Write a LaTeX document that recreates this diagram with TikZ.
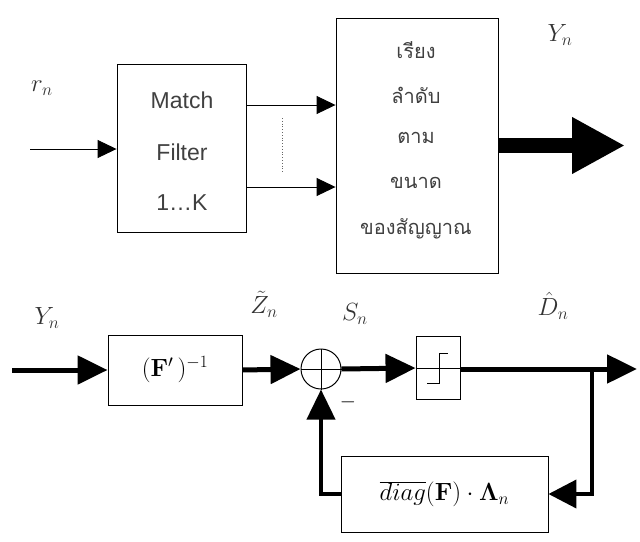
\documentclass[tikz,border=0pt]{standalone}
\usepackage[no-math]{fontspec}
\newfontfamily\thaifont[Script=Thai]{Loma}
\newfontfamily\boxfont{Liberation Sans}
\usetikzlibrary{arrows.meta}

\begin{document}
\begin{tikzpicture}[x=1pt, y=-1pt,
  box/.style={draw, line width=0.9pt, inner sep=0pt},
  thin arrow/.style={line width=0.9pt, -{Triangle[length=19pt,width=18pt]}},
  bold arrow/.style={line width=5pt, -{Triangle[length=30pt,width=28pt]}},
  sig/.style={font=\fontsize{24}{26}\selectfont, text=black!80}]
  \useasboundingbox (0,0) rectangle (640,541);

  % upper part: filter bank and sorting block
  \node[box, minimum width=129pt, minimum height=168pt] (mf) at (181.5,148) {};
  \node[box, minimum width=162pt, minimum height=255pt] (sort) at (417,145.5) {};
  \foreach \y/\txt in {100/Match, 152/Filter, 203/{1\ldots K}}
    \node[font=\boxfont\fontsize{23}{25}\selectfont, text=black!75] (mf\y) at (182,\y) {\txt};
  \foreach \y/\txt in {50/เรียง, 95/ลำดับ, 138/ตาม, 183/ขนาด, 229/ของสัญญาณ}
    \node[font=\thaifont\fontsize{20}{22}\selectfont, text=black!75] (st\y) at (416,\y) {\txt};

  \coordinate (rin) at (30,149);
  \draw[thin arrow] (rin) -- (rin -| mf.west);
  \draw[thin arrow] (mf.east |- 0,105) -- (sort.west |- 0,105);
  \draw[thin arrow] (mf.east |- 0,187) -- (sort.west |- 0,187);
  \draw[dotted, black!60, line width=0.8pt] (282,118) -- (282,172);
  \coordinate (yout) at (625,145.5);
  \draw[line width=15pt, -{Triangle[length=53pt,width=53pt]}] (sort.east) -- (yout);

  \node[sig] (rlbl) at (42,88) {$r_n$};
  \node[sig] (ytop) at (560,35) {$Y_n$};

  % lower part: decision feedback loop
  \node[box, minimum width=134pt, minimum height=70pt,
    font=\fontsize{27}{29}\selectfont] (finv) at (175,370) {$(\mathbf{F}'\,)^{-1}$};
  \node[circle, draw, line width=1pt, minimum size=40pt, inner sep=0pt] (sum) at (321,369) {};
  \draw[line width=1pt] (sum.west) -- (sum.east) (sum.north) -- (sum.south);
  \node[box, minimum width=44pt, minimum height=63pt] (lim) at (438,368) {};
  \draw[line width=1pt] (lim.west) -- (lim.east);
  \draw[line width=1pt] (427,383) -- (439,383) -- (439,353) -- (448,353);
  \node[box, minimum width=207pt, minimum height=76pt,
    font=\fontsize{23}{25}\selectfont] (fb) at (444.5,494) {$\overline{diag}(\mathbf{F})\cdot\mathbf{\Lambda}_n$};

  \coordinate (yin) at (12,370);
  \coordinate (dout) at (637,369);
  \coordinate (br) at (592,369);
  \draw[bold arrow] (yin) -- (finv.west);
  \draw[bold arrow] (finv.east) -- (sum.west);
  \draw[bold arrow] (sum.east) -- (lim.west);
  \draw[bold arrow] (lim.east |- dout) -- (dout);
  \draw[line width=4pt, -{Triangle[length=28pt,width=28pt]}] (br) |- (fb.east);
  \draw[line width=4pt, -{Triangle[length=30pt,width=28pt]}] (fb.west) -| (sum.south);

  \node[sig] (ybot) at (47,318) {$Y_n$};
  \node[sig] (zlbl) at (264,304) {$\tilde{Z}_n$};
  \node[sig] (slbl) at (355,314) {$S_n$};
  \node[sig] (dlbl) at (553,306) {$\hat{D}_n$};
  \node[font=\fontsize{20}{22}\selectfont] (minus) at (348,402) {$-$};
\end{tikzpicture}
\end{document}
